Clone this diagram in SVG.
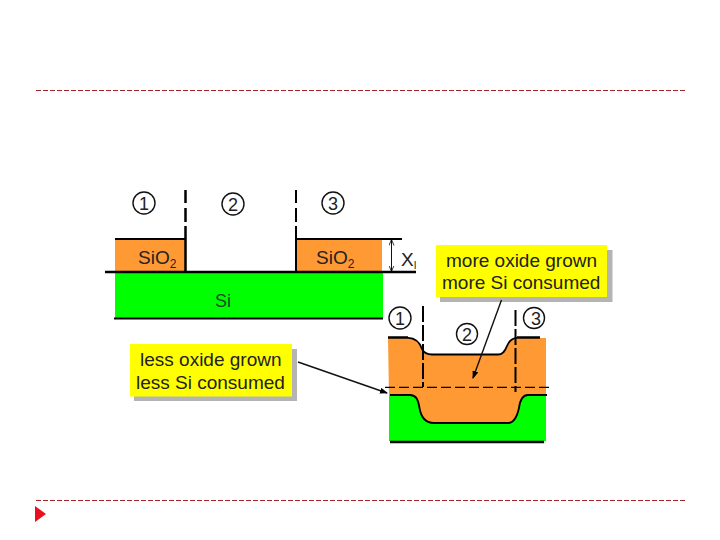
<svg xmlns="http://www.w3.org/2000/svg" width="720" height="540" viewBox="0 0 720 540">
<style>
text{font-family:"Liberation Sans",Arial,sans-serif;fill:#222}
.l{font-size:19px}
.n{font-size:18px;text-anchor:middle}
.c{fill:none;stroke:#111;stroke-width:1.4}
.k{fill:none;stroke:#000;stroke-linecap:butt}
.r{stroke:#a5222a;stroke-width:1;stroke-dasharray:5 2;fill:none}
.sh{fill:#b4b4b4}
.y{fill:#ffff00}
.o{fill:#ff9933}
.g{fill:#00ff00}
</style>
<defs>
<marker id="a" markerWidth="8" markerHeight="6" refX="7" refY="3" orient="auto" markerUnits="userSpaceOnUse"><path d="M0 0L8 3L0 6Z" fill="#000"/></marker>
<marker id="b" markerWidth="6" markerHeight="6" refX="5.5" refY="3" orient="auto-start-reverse" markerUnits="userSpaceOnUse"><path d="M0 0.5L6 3L0 5.5" fill="none" stroke="#000" stroke-width="0.8"/></marker>
</defs>
<g id="frame">
<path class="r" d="M36 90.500H686"/>
<path class="r" d="M36 500.500H686"/>
<path d="M35 506L46 514L35 522Z" fill="#e8101c"/>
</g>
<g id="flat-structure">
<rect class="o" x="115" y="239" width="71" height="33"/>
<rect class="o" x="296" y="239" width="86" height="33"/>
<rect class="g" x="115" y="273" width="268" height="45"/>
<path class="k" stroke-width="2" d="M115 239H186M296 239H402M114 318.500H383"/>
<path class="k" stroke-width="2.500" d="M105 272H416"/>
<path class="k" stroke-width="2.500" d="M185.500 190V203M185.500 208V222M185.500 226V272"/>
<path class="k" stroke-width="2" d="M296 190V203M296 208V222M296 226V272"/>
<path class="c" marker-start="url(#b)" marker-end="url(#b)" d="M391.500 240V271" style="stroke-width:1"/>
<text class="l" x="138" y="264">SiO<tspan font-size="12" dy="4">2</tspan></text>
<text class="l" x="316" y="264">SiO<tspan font-size="12" dy="4">2</tspan></text>
<text class="l" x="215" y="307" style="font-size:18px;fill:#1f4a1f">Si</text>
<text class="l" x="401" y="266">X<tspan font-size="10" dy="3">I</tspan></text>
</g>
<g id="num-1a"><circle class="c" cx="144" cy="203" r="11"/><text class="n" x="144" y="210">1</text></g>
<g id="num-2a"><circle class="c" cx="233" cy="204" r="11"/><text class="n" x="233" y="211">2</text></g>
<g id="num-3a"><circle class="c" cx="333" cy="203" r="11"/><text class="n" x="333" y="210">3</text></g>
<g id="grown-structure">
<path class="g" d="M389 395H546V441H389Z"/>
<path class="o" d="M388 338H408C416 338 420 343 422 349C424 353 427 354.500 432 354.500H498C503 354.500 505 351 507 346C509 341 512 338 517 338H546V395H528C522 395 520 400 519 408C517 417 514 423 508 423H434C426 423 421 417 419.500 408C418 399 416 395 410 395H389Z"/>
<path class="k" stroke-width="1.800" d="M408 337.800C416 338 420 343 422 349C424 353 427 354.500 432 354.500H498C503 354.500 505 351 507 346C509 341 512 338 517 337.800"/>
<path class="k" stroke-width="2.500" d="M517 337.500H540M388 337.500H408"/>
<path class="k" stroke-width="1.800" d="M390 395H410C416 395 418 399 419.500 408C421 417 426 423 434 423H508C514 423 517 417 519 408C520 400 522 395 528 395H547"/>
<path class="k" stroke-width="2.500" d="M390 442H544"/>
<path class="k" stroke-width="1.300" stroke-dasharray="10 4" d="M385 387.300H553"/>
<path class="k" stroke-width="2" stroke-dasharray="16 3" d="M423 306V387"/>
<path class="k" stroke-width="2" stroke-dasharray="16 3" d="M515.500 310V392"/>
</g>
<g id="num-1b"><circle class="c" cx="400" cy="318" r="11"/><text class="n" x="400" y="325">1</text></g>
<g id="num-2b"><circle class="c" cx="467" cy="334" r="10.500"/><text class="n" x="467" y="341">2</text></g>
<g id="num-3b"><circle class="c" cx="534" cy="318" r="10.500"/><text class="n" x="536" y="325">3</text></g>
<g id="note-more">
<rect class="sh" x="440" y="250" width="172.500" height="52"/>
<rect class="y" x="436" y="245" width="171" height="52"/>
<text class="l" x="446" y="267">more oxide grown</text>
<text class="l" x="442" y="288.500">more Si consumed</text>
</g>
<g id="note-less">
<rect class="sh" x="134" y="349" width="163" height="52"/>
<rect class="y" x="130" y="344" width="162" height="52.500"/>
<text class="l" x="140" y="366">less oxide grown</text>
<text class="l" x="136" y="388.500">less Si consumed</text>
</g>
<g id="connectors">
<path class="c" marker-end="url(#a)" d="M501.500 300L473 378"/>
<path class="c" marker-end="url(#a)" d="M298 362L387 393"/>
</g>
</svg>
